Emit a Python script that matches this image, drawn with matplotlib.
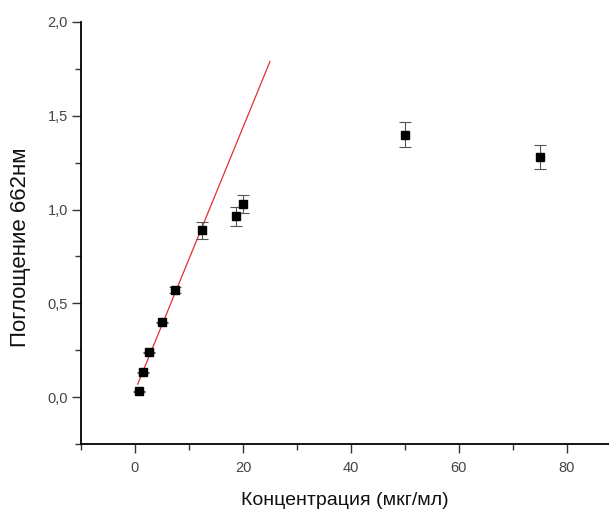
import matplotlib
matplotlib.use("Agg")
import matplotlib.pyplot as plt
import numpy as np
from matplotlib.ticker import MultipleLocator, FuncFormatter

plt.rcParams['font.family'] = ['Liberation Sans', 'DejaVu Sans']

conc = [0.75, 1.5, 2.6, 5.0, 7.5, 12.5, 18.7, 20.0, 50.0, 75.0]
absorb = [0.032, 0.133, 0.24, 0.40, 0.57, 0.89, 0.965, 1.03, 1.40, 1.28]
err = [0.003, 0.003, 0.003, 0.003, 0.015, 0.045, 0.05, 0.05, 0.068, 0.065]

fit_slope = 0.0702
fit_intercept = 0.034
fit_x = [0.5, 25.0]

fig = plt.figure(figsize=(6.09, 5.11), dpi=100)
ax = fig.add_axes([0.133, 0.131, 0.867, 0.826])

fx = np.array(fit_x)
ax.plot(fx, fit_slope * fx + fit_intercept, color='#e03030', lw=0.9, zorder=2)
ax.errorbar(conc, absorb, yerr=err, fmt='s', color='black', ms=6,
            ecolor='#555555', elinewidth=0.8, capsize=4, capthick=0.8, zorder=3)

ax.set_xlim(-10, 87.8)
ax.set_ylim(-0.25, 2.0)
ax.xaxis.set_major_locator(MultipleLocator(20))
ax.xaxis.set_minor_locator(MultipleLocator(10))
ax.yaxis.set_major_locator(MultipleLocator(0.5))
ax.yaxis.set_minor_locator(MultipleLocator(0.25))
ax.yaxis.set_major_formatter(FuncFormatter(lambda v, p: f"{v:.1f}".replace('.', ',')))

for s in ['top', 'right']:
    ax.spines[s].set_visible(False)
for s in ['left', 'bottom']:
    ax.spines[s].set_linewidth(1.3)

ax.tick_params(which='major', direction='out', length=6.5, width=1, labelsize=10.5,
               colors='#333333', labelcolor='#444444')
ax.tick_params(axis='x', which='major', pad=6)
ax.tick_params(axis='y', which='major', pad=3)
ax.tick_params(which='minor', direction='out', length=4, width=1, colors='#333333')

ax.set_xlabel('Концентрация (мкг/мл)', fontsize=14, labelpad=12, color='#111111')
ax.set_ylabel('Поглощение 662нм', fontsize=16, color='#111111')
ax.yaxis.set_label_coords(-0.094, 0.467)

fig.savefig('out.png', dpi=100)
